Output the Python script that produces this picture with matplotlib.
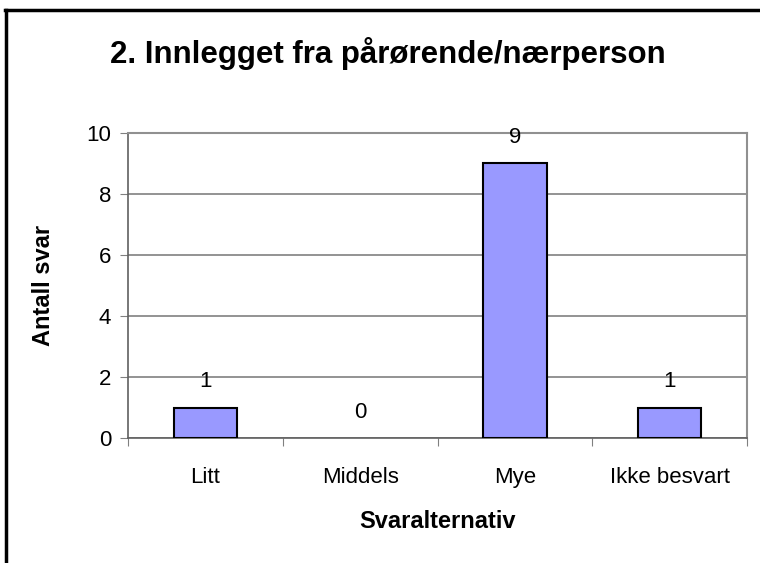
import matplotlib
matplotlib.use('Agg')
import matplotlib.pyplot as plt
from matplotlib.lines import Line2D

plt.rcParams['font.family'] = ['Liberation Sans', 'DejaVu Sans']

categories = ['Litt', 'Middels', 'Mye', 'Ikke besvart']
values = [1, 0, 9, 1]
yticks = [0, 2, 4, 6, 8, 10]

fig = plt.figure(figsize=(7.6, 5.63), dpi=100)
ax = fig.add_axes([128/760, 1 - 438/563, (747-128)/760, (438-133)/563])

x = range(len(categories))
bars = ax.bar(x, values, width=0.41, color='#9999FF', edgecolor='black', linewidth=1.5, zorder=3)
for b, v in zip(bars, values):
    if v == 0:
        b.set_visible(False)
for xi, v in zip(x, values):
    ax.annotate(str(v), (xi, v), xytext=(0, 11), textcoords='offset points',
                ha='center', va='bottom', fontsize=16, zorder=4)

ax.set_xlim(-0.5, len(categories) - 0.5)
ax.set_ylim(0, 10)
ax.set_yticks(yticks)
ax.set_xticks([i + 0.5 for i in range(-1, len(categories))], minor=False)
ax.set_xticklabels([])
ax.set_xticks(list(x), minor=True)
ax.set_xticklabels(categories, minor=True, fontsize=16)
ax.tick_params(axis='x', which='minor', length=0, pad=21)
ax.tick_params(axis='x', which='major', length=6, direction='out', color='#808080')
ax.tick_params(axis='y', length=6, direction='out', color='#808080', labelsize=16, pad=6)

ax.yaxis.grid(True, color='#808080', linewidth=1.2, zorder=0)
for s in ['left', 'bottom']:
    ax.spines[s].set_color('#606060')
    ax.spines[s].set_linewidth(1.2)
for s in ['top', 'right']:
    ax.spines[s].set_color('#909090')
    ax.spines[s].set_linewidth(1.5)

ax.set_xlabel('Svaralternativ', fontsize=17, fontweight='bold', labelpad=16)
ax.set_ylabel('Antall svar', fontsize=17, fontweight='bold', labelpad=23)
fig.text(388/760, 1 - 53/563, '2. Innlegget fra pårørende/nærperson', ha='center', va='center',
         fontsize=22.5, fontweight='bold')

# outer chart border (only left and top visible)
fig.add_artist(Line2D([6/760, 6/760], [0, 1 - 10/563], color='black', linewidth=2.5, transform=fig.transFigure))
fig.add_artist(Line2D([5/760, 1], [1 - 10/563, 1 - 10/563], color='black', linewidth=2.5, transform=fig.transFigure))

fig.savefig('out.png', dpi=100)
